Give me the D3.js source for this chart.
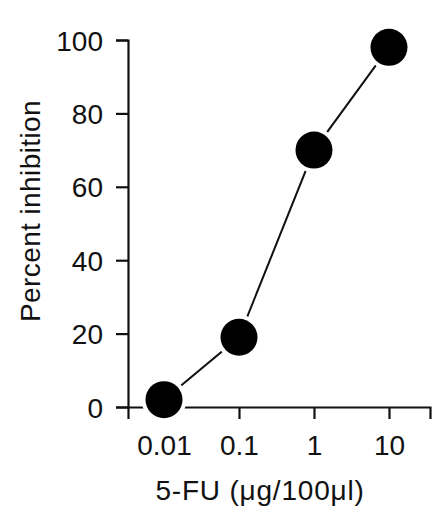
<!DOCTYPE html>
<html>
<head>
<meta charset="utf-8">
<script src="https://cdn.jsdelivr.net/npm/d3@7"></script>
<style>
  body { margin: 0; background: #fff; }
  svg text { font-family: "Liberation Sans", Arial, sans-serif; fill: #111; }
</style>
</head>
<body>
<svg id="chart"></svg>
<script>
// data
const doses = [0.01, 0.1, 1, 10];
const inhibition = [2, 19, 70, 98];
const xTicks = [0.01, 0.1, 1, 10];
const xTickLabels = ["0.01", "0.1", "1", "10"];
const yTicks = [0, 20, 40, 60, 80, 100];

const width = 438, height = 512;
const margin = {top: 40, right: 8, bottom: 105, left: 128};

const svg = d3.select("#chart")
    .attr("width", width)
    .attr("height", height);

const xScale = d3.scaleLog()
    .domain([Math.pow(10, -2.48), Math.pow(10, 1.547)])
    .range([margin.left, width - margin.right]);

const yScale = d3.scaleLinear()
    .domain([0, 100])
    .range([height - margin.bottom, margin.top]);

const xAxis = d3.axisBottom(xScale)
    .tickValues(xTicks)
    .tickFormat((d, i) => xTickLabels[i])
    .tickSizeOuter(0)
    .tickSize(12)
    .tickPadding(16);

const yAxis = d3.axisLeft(yScale)
    .tickValues(yTicks)
    .tickSizeOuter(0)
    .tickSize(12)
    .tickPadding(13);

const xAxisG = svg.append("g")
    .attr("transform", `translate(0,${yScale(0)})`)
    .call(xAxis);

const yAxisG = svg.append("g")
    .attr("transform", `translate(${margin.left},0)`)
    .call(yAxis);

[xAxisG, yAxisG].forEach(g => {
    g.select(".domain").attr("stroke", "#111").attr("stroke-width", 2.2);
    g.selectAll(".tick line").attr("stroke", "#111").attr("stroke-width", 2.2);
    g.selectAll(".tick text").attr("font-size", "28px").attr("fill", "#111");
});
yAxisG.selectAll(".tick text").attr("dy", "0.36em");

// connecting line
const pts = doses.map((d, i) => ({x: d, y: inhibition[i]}));
svg.append("path")
    .datum(pts)
    .attr("fill", "none")
    .attr("stroke", "#111")
    .attr("stroke-width", 2)
    .attr("d", d3.line().x(d => xScale(d.x)).y(d => yScale(d.y)));

// markers, white halo gives the gap between line and dot
svg.selectAll("circle")
    .data(pts)
    .join("circle")
    .attr("cx", d => xScale(d.x))
    .attr("cy", d => yScale(d.y))
    .attr("r", 18.5)
    .attr("fill", "#000")
    .attr("stroke", "#fff")
    .attr("stroke-width", 8)
    .attr("paint-order", "stroke");

// axis titles
svg.append("text")
    .attr("x", 260)
    .attr("y", 500)
    .attr("text-anchor", "middle")
    .attr("font-size", "28px")
    .attr("letter-spacing", "0.8px")
    .text("5-FU (μg/100μl)");

svg.append("text")
    .attr("transform", `translate(40,211) rotate(-90)`)
    .attr("text-anchor", "middle")
    .attr("font-size", "28px")
    .attr("letter-spacing", "0.4px")
    .text("Percent inhibition");
</script>
</body>
</html>
